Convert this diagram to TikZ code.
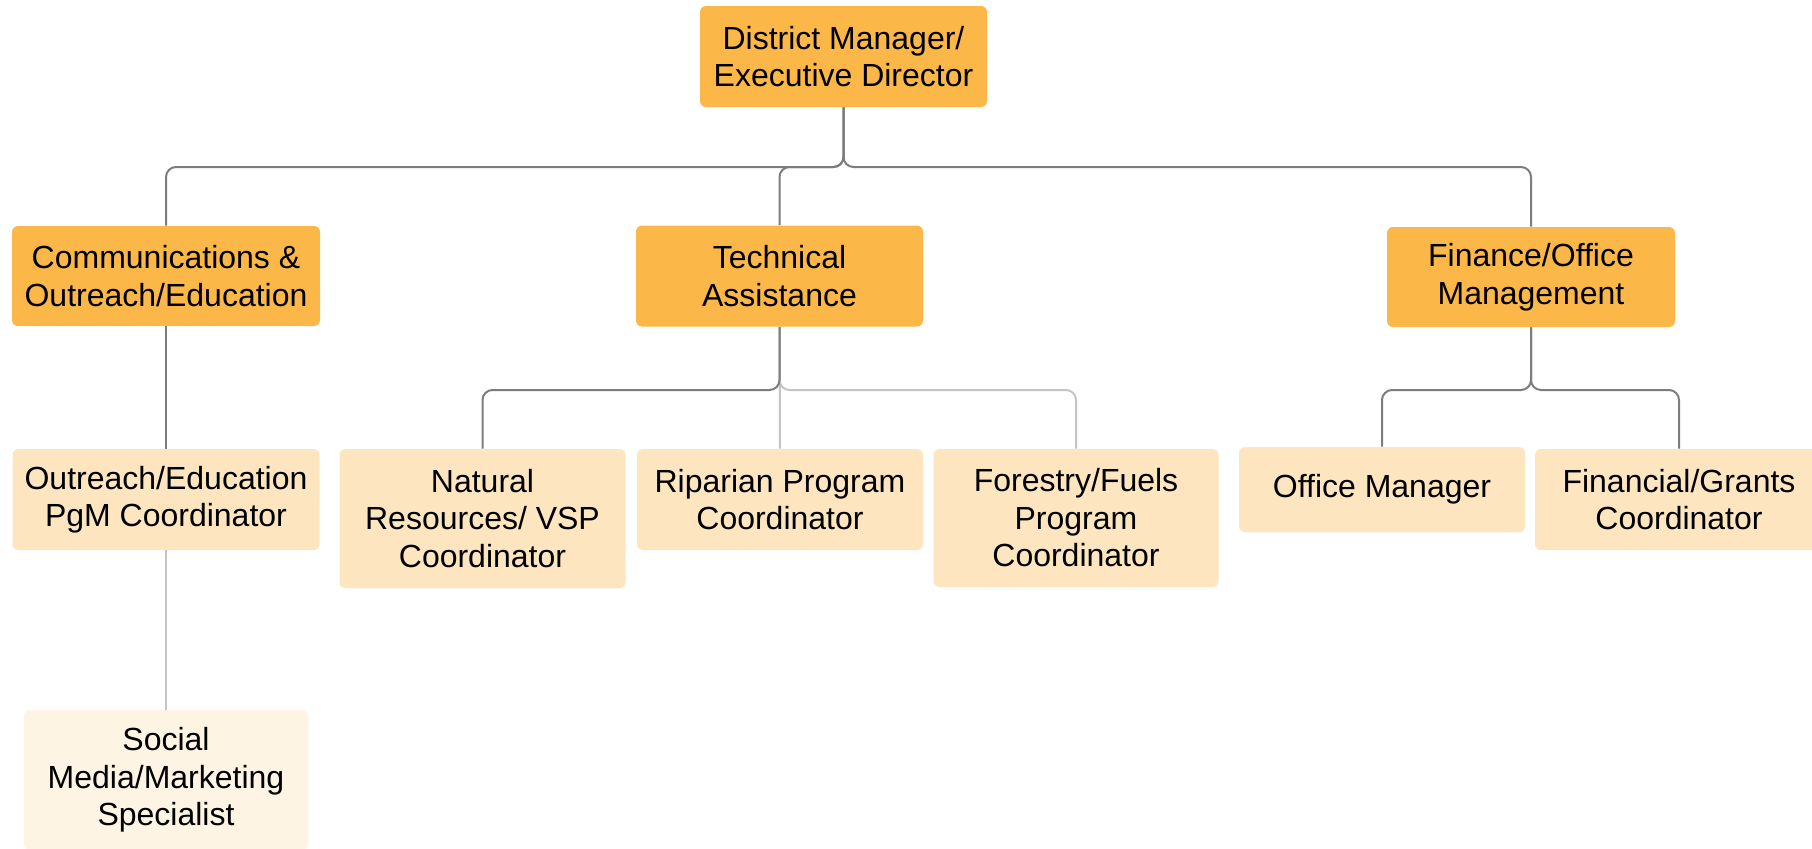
\documentclass[tikz,border=0pt]{standalone}
\usepackage{fontspec}
\setmainfont{Liberation Sans}
\usepackage{tikz}

\definecolor{headorange}{RGB}{251,184,72}
\definecolor{stafftan}{RGB}{253,229,192}
\definecolor{aidecream}{RGB}{254,244,227}
\definecolor{darkline}{RGB}{125,125,125}
\definecolor{lightline}{RGB}{196,196,196}

\tikzset{
  box/.style={rounded corners=3pt, align=center, inner sep=0pt,
    font=\fontsize{16}{18.75}\selectfont},
  head/.style={box, fill=headorange},
  staff/.style={box, fill=stafftan},
  aide/.style={box, fill=aidecream},
  link/.style={draw=darkline, line width=1pt, rounded corners=5pt},
  faint/.style={link, draw=lightline}
}

\begin{document}
\begin{tikzpicture}[x=0.5pt, y=-0.5pt]
    \useasboundingbox[fill=white] (0, 0) rectangle (1812, 848);

    % top
    \node[head, minimum width=143.5pt, minimum height=50.5pt] (dm) at (843.5, 56.5) {District Manager/\\Executive Director};

    % departments
    \node[head, minimum width=154pt, minimum height=50pt] (comm) at (166, 276) {Communications \&\\Outreach/Education};
    \node[head, minimum width=143.5pt, minimum height=50.5pt] (tech) at (779.5, 276) {Technical\\Assistance};
    \node[head, minimum width=144pt, minimum height=50pt] (fin) at (1531, 277) {Finance/Office\\Management};

    % staff
    \node[staff, minimum width=153.5pt, minimum height=50.5pt] (outr) at (166, 499.5) {Outreach/Education\\PgM Coordinator};
    \node[staff, minimum width=143pt, minimum height=69.5pt] (nat) at (482.5, 518.5) {Natural\\Resources/ VSP\\Coordinator};
    \node[staff, minimum width=143pt, minimum height=50.5pt] (rip) at (780, 499.5) {Riparian Program\\Coordinator};
    \node[staff, minimum width=142.5pt, minimum height=69pt] (fuel) at (1076, 518) {Forestry/Fuels\\Program\\Coordinator};
    \node[staff, minimum width=143pt, minimum height=42.5pt] (office) at (1382, 489.5) {Office Manager};
    \node[staff, minimum width=144pt, minimum height=50.5pt] (grants) at (1679, 499.5) {Financial/Grants\\Coordinator};
    \node[aide, minimum width=142pt, minimum height=70pt] (social) at (166, 780) {Social\\Media/Marketing\\Specialist};

    % junctions
    \coordinate (topbus) at (843.5, 167);
    \coordinate (techbus) at (779.5, 390);
    \coordinate (finbus) at (1531, 390);

    \draw[link] (dm.south) -- (topbus) -| (comm.north);
    \draw[link] (dm.south) -- (topbus) -| (tech.north);
    \draw[link] (dm.south) -- (topbus) -| (fin.north);

    \draw[link] (comm.south) -- (outr.north);
    \draw[faint] (outr.south) -- (social.north);

    \draw[faint] (tech.south) -- (rip.north);
    \draw[faint] (tech.south) -- (techbus) -| (fuel.north);
    \draw[link] (tech.south) -- (techbus) -| (nat.north);

    \draw[link] (fin.south) -- (finbus) -| (office.north);
    \draw[link] (fin.south) -- (finbus) -| (grants.north);
  \end{tikzpicture}
\end{document}
